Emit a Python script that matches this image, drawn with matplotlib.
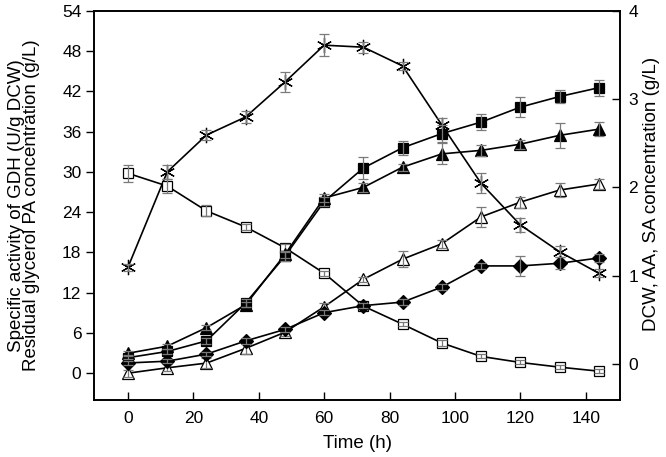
import matplotlib
matplotlib.use("Agg")
import matplotlib.pyplot as plt

plt.rcParams['font.family'] = ['Liberation Sans', 'DejaVu Sans']
plt.rcParams['font.size'] = 12.5

time_h = [0, 12, 24, 36, 48, 60, 72, 84, 96, 108, 120, 132, 144]

# left axis series
gdh = [15.8, 30.0, 35.5, 38.2, 43.4, 48.9, 48.6, 45.8, 37.0, 28.3, 22.1, 18.1, 14.9]
gdh_err = [0.5, 1.0, 0.8, 0.9, 1.5, 1.6, 0.8, 0.6, 1.0, 1.5, 1.0, 0.8, 0.6]
glycerol = [29.8, 27.9, 24.2, 21.8, 18.7, 14.9, 10.0, 7.3, 4.5, 2.5, 1.6, 0.9, 0.3]
glycerol_err = [1.3, 1.0, 0.8, 0.5, 0.5, 0.4, 0.4, 0.3, 0.4, 0.3, 0.3, 0.3, 0.3]
pa = [0.0, 0.8, 1.5, 3.7, 6.1, 9.9, 14.0, 17.0, 19.3, 23.3, 25.5, 27.3, 28.2]
pa_err = [0.5, 0.5, 0.8, 0.8, 0.5, 0.5, 0.4, 1.2, 0.6, 1.5, 0.8, 1.0, 0.8]

# right axis series
dcw = [0.07, 0.14, 0.26, 0.69, 1.22, 1.84, 2.22, 2.45, 2.61, 2.74, 2.91, 3.03, 3.13]
dcw_err = [0.02, 0.03, 0.03, 0.04, 0.05, 0.05, 0.12, 0.08, 0.10, 0.09, 0.11, 0.07, 0.09]
aa = [0.12, 0.20, 0.41, 0.67, 1.24, 1.88, 2.00, 2.23, 2.38, 2.42, 2.49, 2.59, 2.66]
aa_err = [0.02, 0.03, 0.03, 0.03, 0.04, 0.04, 0.05, 0.04, 0.12, 0.06, 0.05, 0.14, 0.08]
sa = [0.01, 0.03, 0.11, 0.26, 0.39, 0.58, 0.66, 0.70, 0.87, 1.11, 1.11, 1.14, 1.20]
sa_err = [0.02, 0.02, 0.02, 0.03, 0.03, 0.03, 0.03, 0.03, 0.03, 0.03, 0.11, 0.07, 0.05]

fig = plt.figure(figsize=(6.66, 4.57), dpi=100)
ax = fig.add_subplot(111)
fig.subplots_adjust(left=0.1411, right=0.931, bottom=0.1247, top=0.976)
ax2 = ax.twinx()

lw = 1.2
ecol = '#7a7a7a'


def draw(axis, y, err, marker, face, ms):
    axis.plot(time_h, y, color='black', linewidth=lw, marker=marker, markersize=ms,
              markerfacecolor=face, markeredgecolor='black', markeredgewidth=0.9,
              zorder=3, clip_on=False)
    axis.errorbar(time_h, y, yerr=err, fmt='none', ecolor=ecol, elinewidth=0.9,
                  capsize=3.5, capthick=0.9, zorder=4, clip_on=False)


draw(ax, gdh, gdh_err, (6, 2, 0), 'none', 11)
draw(ax, glycerol, glycerol_err, 's', 'white', 7.5)
draw(ax, pa, pa_err, '^', 'white', 9)
draw(ax2, dcw, dcw_err, 's', 'black', 7)
draw(ax2, aa, aa_err, '^', 'black', 9)
draw(ax2, sa, sa_err, 'D', 'black', 7.5)

ax.set_xlim(-10.4, 150.5)
ax.set_ylim(-4.0, 54)
ax2.set_ylim(-0.41, 4)
ax.set_xticks(range(0, 141, 20))
ax.set_yticks(range(0, 55, 6))
ax2.set_yticks([0, 1, 2, 3, 4])

ax.tick_params(axis='x', direction='in', length=6, width=1, pad=8)
ax.tick_params(axis='y', direction='out', length=6, width=1, pad=3)
ax2.tick_params(axis='y', direction='in', length=6, width=1, pad=6)

for sp in ax.spines.values():
    sp.set_linewidth(1.2)
for sp in ax2.spines.values():
    sp.set_linewidth(1.2)

ax.set_xlabel('Time (h)', fontsize=13.5)
ax.xaxis.set_label_coords(0.5, -0.09)
ax.set_ylabel('Specific activity of GDH (U/g DCW)\nResidual glycerol PA concentration (g/L)',
              fontsize=13.5, linespacing=0.86)
ax.yaxis.set_label_coords(-0.103, 0.5)
ax2.set_ylabel('DCW, AA, SA concentration (g/L)', rotation=90, fontsize=13.5)
ax2.yaxis.set_label_coords(1.043, 0.53)

fig.savefig('out.png', dpi=100)
